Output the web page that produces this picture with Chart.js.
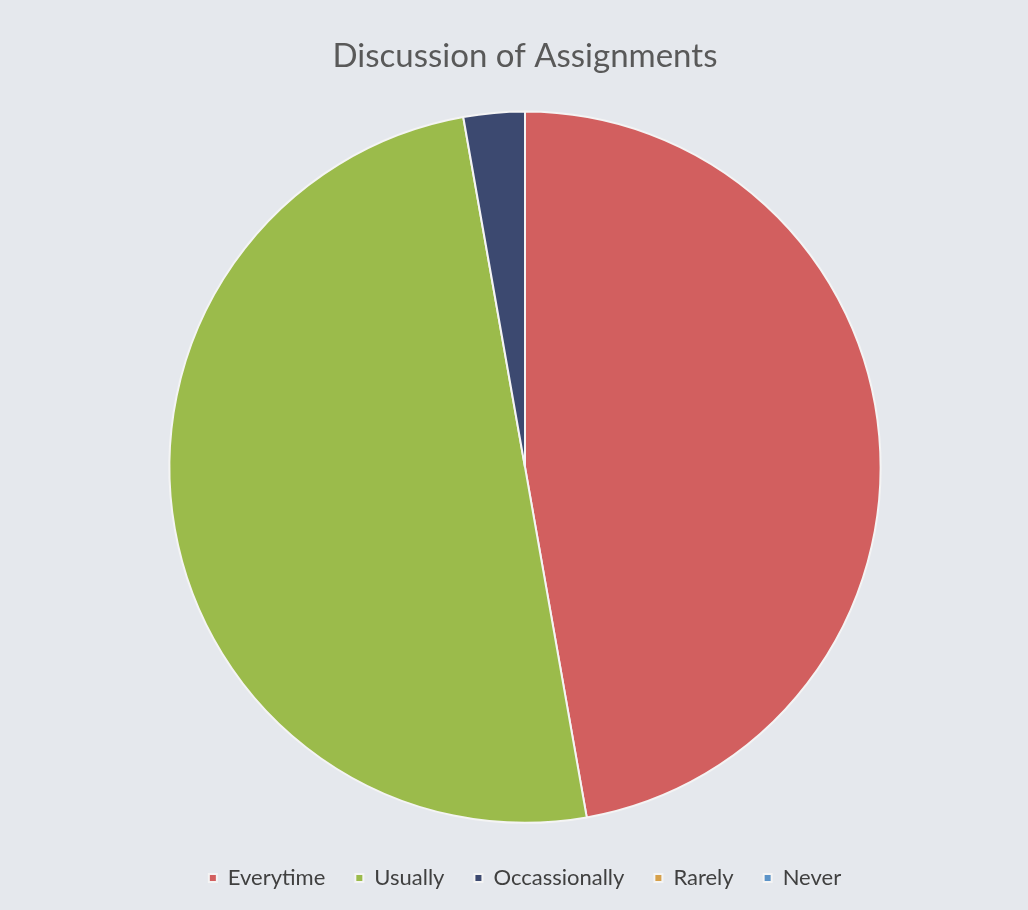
<!DOCTYPE html>
<html>
<head>
<meta charset="utf-8">
<script src="https://cdn.jsdelivr.net/npm/chart.js@4"></script>
<style>
  html, body { margin: 0; padding: 0; background: #e5e8ed; }
  #wrap { width: 1028px; height: 910px; }
</style>
</head>
<body>
<div id="wrap"><canvas id="myChart" width="1028" height="910"></canvas></div>
<script>
// Chart data
const categories = ["Everytime", "Usually", "Occassionally", "Rarely", "Never"];
const responses = [17, 18, 1, 0, 0];
const sliceColors = ["#d25f5f", "#9bbb4b", "#3c4970", "#d6a04a", "#5b93c8"];

const ctx = document.getElementById('myChart');

new Chart(ctx, {
  type: 'pie',
  data: {
    labels: categories,
    datasets: [{
      data: responses,
      backgroundColor: sliceColors,
      borderColor: '#f4f4f4',
      borderWidth: 2
    }]
  },
  options: {
    responsive: false,
    animation: false,
    layout: {
      padding: { left: 22, right: 0, top: 0, bottom: 11 }
    },
    plugins: {
      title: {
        display: true,
        text: 'Discussion of Assignments',
        color: '#595959',
        font: { family: 'Lato', size: 33, weight: 'normal' },
        padding: { top: 37, bottom: 34 }
      },
      legend: {
        position: 'bottom',
        // empty title only adds some space above the legend row
        title: { display: true, text: '', font: { size: 11 }, padding: 0 },
        labels: {
          color: '#404040',
          font: { family: 'Lato', size: 22 },
          boxWidth: 8,
          boxHeight: 8,
          padding: 30
        }
      },
      tooltip: { enabled: false }
    }
  }
});
</script>
</body>
</html>
